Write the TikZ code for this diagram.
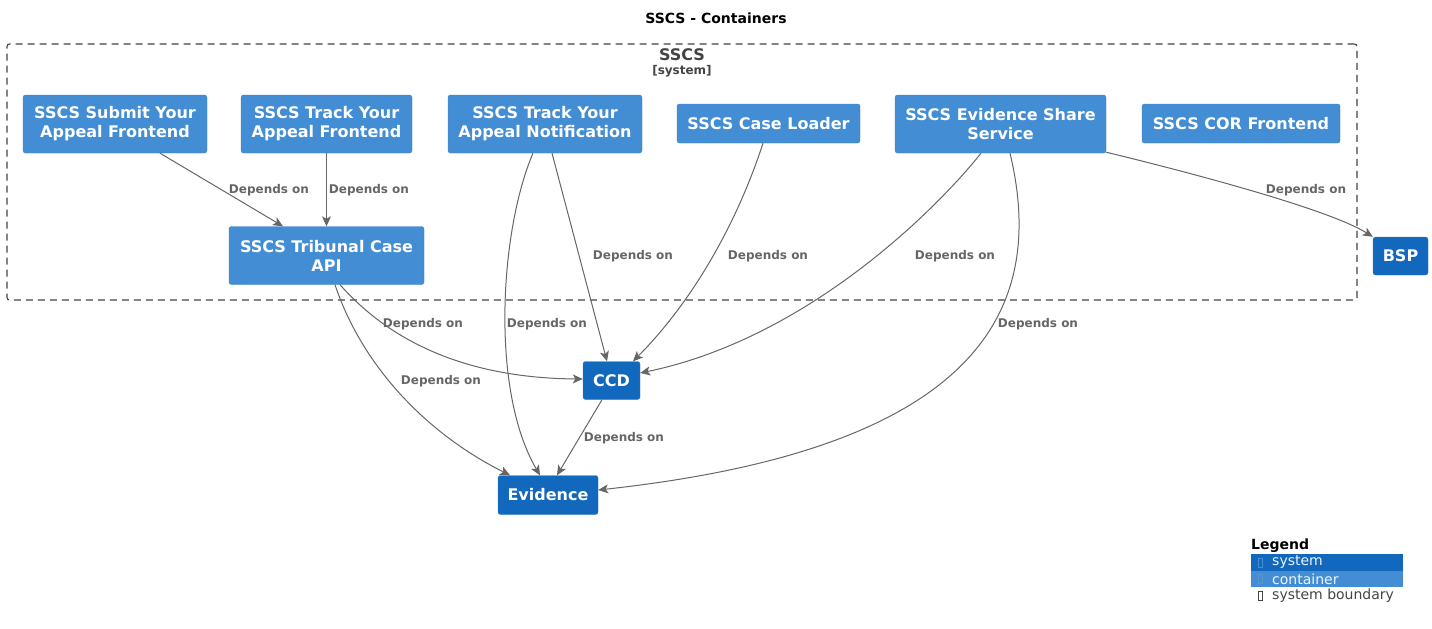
\documentclass[tikz,border=0pt]{standalone}
\usepackage{fontspec}
\setmainfont{DejaVu Sans}
\usetikzlibrary{arrows.meta,calc}
\definecolor{contfill}{HTML}{438DD5}
\definecolor{contline}{HTML}{3C7FC0}
\definecolor{sysfill}{HTML}{1168BD}
\definecolor{sysline}{HTML}{3C7FC0}
\definecolor{edgecol}{HTML}{666666}
\definecolor{bndcol}{HTML}{444444}
\begin{document}
\begin{tikzpicture}[x=1pt,y=-1pt,
  box/.style={rectangle, rounded corners=2.5pt, inner sep=0pt, align=center, text=white, font=\fontsize{16}{19}\selectfont\bfseries},
  cont/.style={box, fill=contfill, draw=contline},
  sysbox/.style={box, fill=sysfill, draw=sysline},
  rel/.style={draw=edgecol, line width=1pt, -{Stealth[length=10pt,width=9pt,inset=2.5pt]}},
  lbl/.style={text=edgecol, font=\fontsize{12}{14}\selectfont\bfseries, inner sep=0pt},
  legtxt/.style={anchor=west, inner sep=0pt, font=\fontsize{14}{16}\selectfont},
  tofu/.style={draw, line width=0.6pt},
]
\useasboundingbox (0,0) rectangle (1432,629);

% title
\node[font=\fontsize{14}{16}\selectfont\bfseries] (title) at (716,18) {SSCS - Containers};

% boundary
\node[draw=bndcol, line width=1.1pt, dash pattern=on 7pt off 5pt, rounded corners=2.5pt,
      minimum width=1350pt, minimum height=256pt, inner sep=0pt] (bnd) at (682,172) {};
\node[text=bndcol, font=\fontsize{16}{18}\selectfont\bfseries, inner sep=0pt] (bndname) at (682,55) {SSCS};
\node[text=bndcol, font=\fontsize{12}{14}\selectfont\bfseries, inner sep=0pt] (bndtype) at (682,71.5) {[system]};

% containers
\node[cont, minimum width=184pt, minimum height=58pt] (submit) at (115,124) {SSCS Submit Your\\Appeal Frontend};
\node[cont, minimum width=171pt, minimum height=58pt] (trackfe) at (326.5,124) {SSCS Track Your\\Appeal Frontend};
\node[cont, minimum width=194pt, minimum height=58pt] (notif) at (545,124) {SSCS Track Your\\Appeal Notification};
\node[cont, minimum width=183pt, minimum height=39pt] (loader) at (768.5,123.5) {SSCS Case Loader};
\node[cont, minimum width=211pt, minimum height=58pt] (share) at (1000.5,124) {SSCS Evidence Share\\Service};
\node[cont, minimum width=198pt, minimum height=39pt] (cor) at (1241,123.5) {SSCS COR Frontend};
\node[cont, minimum width=195pt, minimum height=58pt] (tribunal) at (326.5,255.5) {SSCS Tribunal Case\\API};

% systems
\node[sysbox, minimum width=57pt, minimum height=38pt] (ccd) at (611.5,380.5) {CCD};
\node[sysbox, minimum width=100pt, minimum height=39pt] (evidence) at (548,495) {Evidence};
\node[sysbox, minimum width=55pt, minimum height=38pt] (bsp) at (1400.5,256) {BSP};

% relations
\draw[rel] ([xshift=45pt]submit.south) -- ([xshift=-43.5pt]tribunal.north);
\draw[rel] (trackfe.south) -- (tribunal.north);
\draw[rel] ([xshift=7pt]notif.south) -- ([xshift=-4.5pt]ccd.north);
\draw[rel] ([xshift=-12pt]notif.south) .. controls (500,230) and (490,390) .. ([xshift=-8pt]evidence.north);
\draw[rel] ([xshift=-5.5pt]loader.south) .. controls (737,223) and (693,301) .. ([xshift=21.5pt]ccd.north);
\draw[rel] ([xshift=-19.5pt]share.south) .. controls (940,205) and (810,338) .. ([yshift=7.5pt]ccd.east);
\draw[rel] ([xshift=9.5pt]share.south) .. controls (1050,320) and (965,450) .. ([yshift=5pt]evidence.east);
\draw[rel] ([yshift=1pt]share.south east) .. controls (1200,175) and (1330,210) .. (bsp.north west);
\draw[rel] ([xshift=13.5pt]tribunal.south) .. controls (380,330) and (450,378) .. ([yshift=1.5pt]ccd.west);
\draw[rel] ([xshift=8.5pt]tribunal.south) .. controls (360,360) and (420,430) .. ([xshift=-38pt]evidence.north);
\draw[rel] ([xshift=-9.5pt]ccd.south) -- ([xshift=9pt]evidence.north);

% labels
\node[lbl] (l1) at (269,190) {Depends on};
\node[lbl] (l2) at (369,190) {Depends on};
\node[lbl] (l3) at (633,256) {Depends on};
\node[lbl] (l4) at (547,324) {Depends on};
\node[lbl] (l5) at (768,256) {Depends on};
\node[lbl] (l6) at (955,256) {Depends on};
\node[lbl] (l7) at (1038,324) {Depends on};
\node[lbl] (l8) at (1306,190) {Depends on};
\node[lbl] (l9) at (423,324) {Depends on};
\node[lbl] (l10) at (441,381) {Depends on};
\node[lbl] (l11) at (624,438) {Depends on};

% legend
\node[legtxt, font=\fontsize{14}{16}\selectfont\bfseries] (legend) at (1251,546) {Legend};
\node[fill=sysfill, minimum width=152pt, minimum height=16.5pt, inner sep=0pt, anchor=north west] (legsys) at (1251,554) {};
\node[fill=contfill, minimum width=152pt, minimum height=16.5pt, inner sep=0pt, anchor=north west] (legcont) at (1251,570.5) {};
\draw[tofu, draw=contfill] (1258.5,558) rectangle (1262.5,567);
\draw[tofu, draw=sysfill!70!white] (1258.5,574.5) rectangle (1262.5,583.5);
\draw[tofu, draw=bndcol] (1258.5,591) rectangle (1262.5,600);
\node[legtxt, text=white!92!sysfill] (legsystxt) at (1272,562.5) {system};
\node[legtxt, text=white!92!contfill] (legconttxt) at (1272,579.5) {container};
\node[legtxt, text=bndcol] (legbndtxt) at (1272,596) {system boundary};
\end{tikzpicture}
\end{document}
